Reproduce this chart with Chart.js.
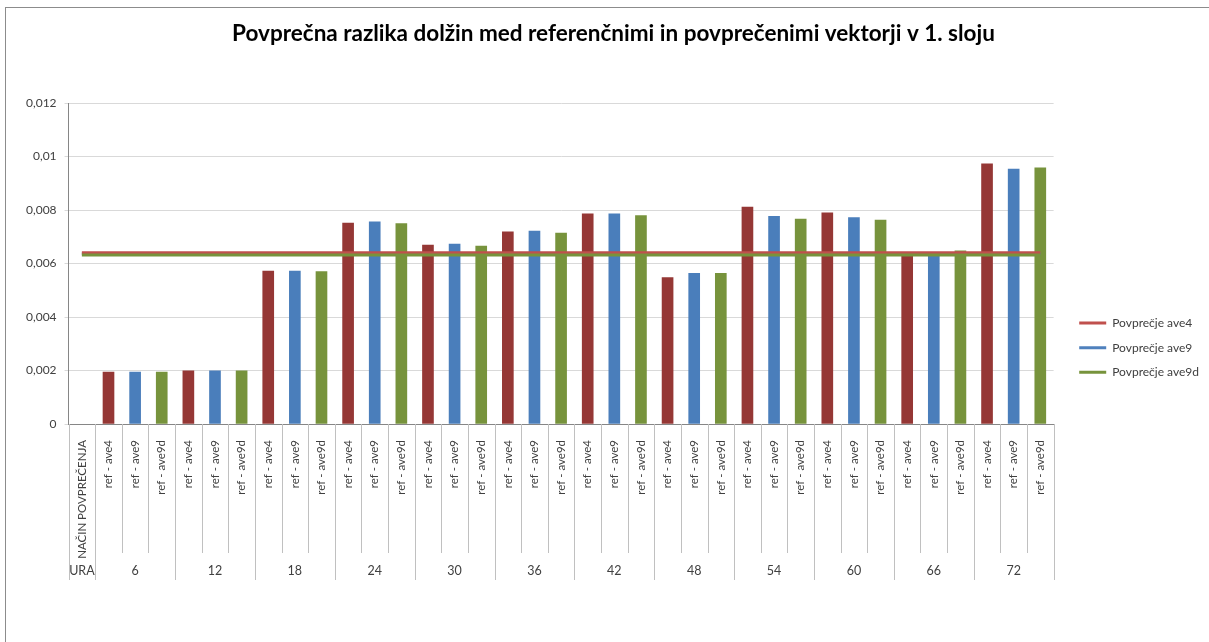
<!DOCTYPE html>
<html>
<head>
<meta charset="utf-8">
<script src="https://cdn.jsdelivr.net/npm/chart.js@4/dist/chart.umd.min.js"></script>
<style>
  body { margin: 0; background: #fff; }
  #okvir { position: absolute; left: 5px; top: 7px; border-left: 1px solid #8c8c8c; border-top: 1px solid #8c8c8c; }
</style>
</head>
<body>
<div id="okvir"><canvas id="graf" width="1203" height="634"></canvas></div>
<script>
// podatki, odčitani z grafa
const naslov = 'Povprečna razlika dolžin med referenčnimi in povprečenimi vektorji v 1. sloju';
const nacinOznaka = 'NAČIN POVPREČENJA';
const uraOznaka = 'URA';
const ure = ['6', '12', '18', '24', '30', '36', '42', '48', '54', '60', '66', '72'];
const nacini = ['ref - ave4', 'ref - ave9', 'ref - ave9d'];

const refAve4  = [0.00194, 0.00199, 0.00572, 0.00751, 0.00669, 0.00718, 0.00786, 0.00547, 0.00811, 0.00789, 0.00630, 0.00973];
const refAve9  = [0.00194, 0.00199, 0.00572, 0.00756, 0.00673, 0.00721, 0.00786, 0.00563, 0.00776, 0.00772, 0.00628, 0.00953];
const refAve9d = [0.00194, 0.00199, 0.00570, 0.00749, 0.00665, 0.00714, 0.00779, 0.00563, 0.00766, 0.00762, 0.00647, 0.00958];

const povpAve4  = 0.00640;
const povpAve9  = 0.00636;
const povpAve9d = 0.00632;

const yTicks = [0, 0.002, 0.004, 0.006, 0.008, 0.01, 0.012];

// oznake kategorij: prvi stolpec je prazen (NAČIN POVPREČENJA)
const oznake = [nacinOznaka];
const stolpci = [null];
const barve = ['#000'];
const barveNacin = ['#953735', '#4A7EBB', '#77933C'];
ure.forEach((u, i) => {
  [refAve4[i], refAve9[i], refAve9d[i]].forEach((v, j) => {
    oznake.push(nacini[j]);
    stolpci.push(v);
    barve.push(barveNacin[j]);
  });
});

const crta = (label, v, barva, order) => ({
  type: 'line', label, order,
  data: oznake.map(() => v),
  borderColor: barva, backgroundColor: barva,
  borderWidth: 3, pointRadius: 0, pointHoverRadius: 0
});

const pisava = "'Lato', 'Noto Sans', sans-serif";
const sivoBesedilo = '#404040';

// spodnja vrstica oznak (URA / ure) in ločilne črte
const skupine = {
  id: 'skupine',
  afterDraw(chart) {
    const x = chart.scales.x, ctx = chart.ctx;
    const dno = chart.chartArea.bottom;
    const pol = (x.getPixelForValue(1) - x.getPixelForValue(0)) / 2;
    ctx.save();
    ctx.strokeStyle = '#c0c0c0';
    ctx.lineWidth = 1;
    for (let i = 0; i <= oznake.length; i++) {
      const px = Math.round((i < oznake.length ? x.getPixelForValue(i) - pol : x.getPixelForValue(i - 1) + pol)) + 0.5;
      const dolga = i <= 1 || (i - 1) % 3 === 0;
      ctx.beginPath();
      ctx.moveTo(px, dno);
      ctx.lineTo(px, dno + (dolga ? 156 : 129));
      ctx.stroke();
    }
    ctx.fillStyle = sivoBesedilo;
    ctx.font = '12.5px ' + pisava;
    ctx.textAlign = 'center';
    ctx.textBaseline = 'middle';
    ctx.fillText(uraOznaka, x.getPixelForValue(0), dno + 147);
    ure.forEach((u, i) => ctx.fillText(u, x.getPixelForValue(2 + 3 * i), dno + 147));
    ctx.restore();
  }
};

new Chart(document.getElementById('graf'), {
  data: {
    labels: oznake,
    datasets: [
      crta('Povprečje ave4', povpAve4, '#C0504D', 2),
      crta('Povprečje ave9', povpAve9, '#4F81BD', 3),
      crta('Povprečje ave9d', povpAve9d, '#77933C', 1),
      {
        type: 'bar', label: 'stolpci', order: 10,
        data: stolpci,
        backgroundColor: barve,
        barThickness: 11
      }
    ]
  },
  options: {
    responsive: false,
    animation: false,
    layout: { padding: { left: 12, right: 0, top: 0, bottom: 0 } },
    plugins: {
      title: {
        display: true, text: naslov, color: '#000',
        font: { family: pisava, size: 22.5, weight: 'bold' },
        padding: { top: 12, bottom: 56 }
      },
      legend: {
        position: 'right',
        title: { display: true, text: '', font: { size: 12 }, padding: { top: 31, bottom: 0 } },
        labels: {
          usePointStyle: true, pointStyle: 'line', pointStyleWidth: 27,
          padding: 12.6, color: sivoBesedilo,
          font: { family: pisava, size: 12 },
          filter: it => it.datasetIndex < 3,
          sort: (a, b) => a.datasetIndex - b.datasetIndex
        }
      },
      tooltip: { enabled: false }
    },
    scales: {
      x: {
        grid: { display: false },
        border: { color: '#868686' },
        ticks: {
          color: sivoBesedilo, minRotation: 90, maxRotation: 90, autoSkip: false, padding: 8,
          font: { family: pisava, size: 11.5 }
        },
        afterFit: s => { s.height = 218; }
      },
      y: {
        min: 0, max: 0.012,
        afterBuildTicks: s => { s.ticks = yTicks.map(v => ({ value: v })); },
        grid: { color: '#d9d9d9', tickLength: 4 },
        border: { color: '#868686' },
        ticks: {
          color: sivoBesedilo, padding: 8,
          font: { family: pisava, size: 12 },
          callback: v => v === 0 ? '0' : String(+v.toFixed(3)).replace('.', ',')
        }
      },
      // prazen prostor med grafom in legendo
      razmik: {
        type: 'linear', position: 'right', display: true,
        grid: { display: false }, border: { display: false }, ticks: { display: false },
        afterFit: s => { s.width = 13; }
      }
    }
  },
  plugins: [skupine]
});
</script>
</body>
</html>
